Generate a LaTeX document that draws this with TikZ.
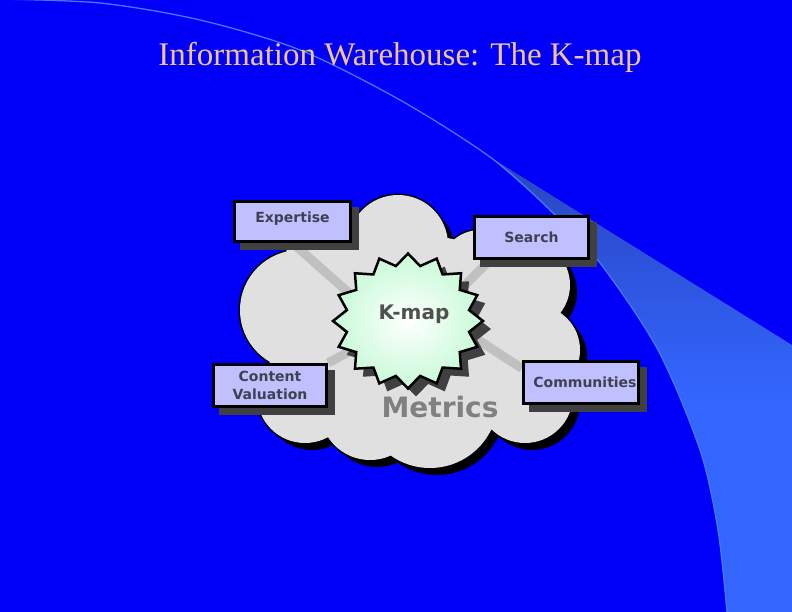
\documentclass[tikz,border=0pt]{standalone}
\usepackage{fontspec}
\setmainfont{Liberation Serif}
\newfontfamily\boxfont{DejaVu Sans}
\pgfdeclarelayer{bg}
\pgfdeclarelayer{mid}
\pgfsetlayers{bg,mid,main}
\definecolor{bgblue}{RGB}{0,0,250}
\definecolor{wedgedark}{RGB}{40,68,190}
\definecolor{wedgelight}{RGB}{51,102,255}
\definecolor{arcline}{RGB}{70,120,255}
\definecolor{titlecol}{RGB}{240,195,145}
\definecolor{cloudgray}{RGB}{224,224,224}
\definecolor{boxfill}{RGB}{192,192,255}
\definecolor{boxtext}{RGB}{64,64,80}
\definecolor{shadowgray}{RGB}{64,64,64}
\definecolor{conngray}{RGB}{192,192,192}
\definecolor{mint}{RGB}{200,250,215}
\definecolor{kmaptext}{RGB}{80,80,80}
\definecolor{metricstext}{RGB}{128,128,128}
\newcommand{\cloudpath}{(398,245) circle[radius=50] (300,310) circle[radius=60]
  (330,262) circle[radius=45] (305,395) circle[radius=48] (430,400) circle[radius=68]
  (370,410) circle[radius=50]
  (525,395) circle[radius=48] (535,350) circle[radius=45] (525,285) circle[radius=45]
  (480,270) circle[radius=40] (415,330) ellipse[x radius=130, y radius=95]}
\newcommand{\kmstar}{(0,67.5) \foreach \i in {1,...,31}{ -- ({(75-12.75*mod(\i,2))*cos(90+\i*11.25)},{(67.5-11.5*mod(\i,2))*sin(90+\i*11.25)})} -- cycle}
\begin{document}
\begin{tikzpicture}[x=1pt,y=-1pt,
  kbox/.style={draw=black, line width=3pt, fill=boxfill, minimum width=#1, minimum height=42pt,
    inner sep=0pt, font=\boxfont\bfseries\fontsize{14}{18}\selectfont, text=boxtext, align=center},
  conn/.style={draw=conngray, line width=9pt},
  shadowbox/.style={fill=shadowgray}]
\useasboundingbox (0,0) rectangle (792,612);
% boxes
\node[kbox=116pt, minimum height=40pt, text height=10pt, text depth=7pt] (exp) at (292.5,221.5) {Expertise};
\node[kbox=114pt] (srch) at (531.5,237.5) {Search};
\node[kbox=113pt] (cv) at (270,385.5) {Content\\Valuation};
\node[kbox=115pt] (comm) at (581,382.5) {\hspace*{8pt}Communities};
\begin{pgfonlayer}{bg}
\fill[bgblue] (0,0) rectangle (792,612);
\begin{scope}
\clip (490,157) -- (792,345) -- (792,612) -- (727,612) -- plot[smooth] coordinates {(727,612) (718,530) (700,450) (658,350) (600,263) (550,210) (490,157)} -- cycle;
\shade[top color=wedgedark, bottom color=wedgelight] (480,150) rectangle (792,400);
\fill[wedgelight] (480,399) rectangle (792,612);
\end{scope}
\draw[arcline, line width=1.3pt] plot[smooth] coordinates {(-5,-1) (100,3) (200,20) (300,50) (400,100) (490,157) (550,210) (600,263) (658,350) (700,450) (718,530) (727,612)};
\node[font=\fontsize{33}{36}\selectfont, text=titlecol, anchor=base] (title) at (400,66) {Information Warehouse: The K-map};
% cloud
\fill[black, shift={(7,7)}] \cloudpath;
\draw[black, line width=3pt] \cloudpath;
\fill[cloudgray] \cloudpath;
\end{pgfonlayer}
\begin{pgfonlayer}{mid}
\coordinate (ke) at (393,332);
\coordinate (ks) at (430,320);
\coordinate (kc) at (420,314);
\coordinate (kco) at (440,315);
\draw[conn] (exp.south) -- (ke);
\draw[conn] ([xshift=17pt]srch.south west) -- (ks);
\draw[conn] (cv.north east) -- (kc);
\draw[conn] ([yshift=14pt]comm.west) -- (kco);
\fill[shadowgray, shift={(416,329)}] \kmstar;
\shadedraw[inner color=white, outer color=mint, draw=black, line width=2.5pt, shift={(408,321)}] \kmstar;
\node[font=\boxfont\bfseries\fontsize{20}{22}\selectfont, text=kmaptext] (kmap) at (414,314) {K-map};
\node[font=\boxfont\bfseries\fontsize{28}{30}\selectfont, text=metricstext] (metrics) at (440,407) {Metrics};
\fill[shadowbox] ([shift={(7,7)}]exp.north west) rectangle ([shift={(7,7)}]exp.south east);
\fill[shadowbox] ([shift={(7,7)}]srch.north west) rectangle ([shift={(7,7)}]srch.south east);
\fill[shadowbox] ([shift={(7,7)}]cv.north west) rectangle ([shift={(7,7)}]cv.south east);
\fill[shadowbox] ([shift={(7,7)}]comm.north west) rectangle ([shift={(7,7)}]comm.south east);
\end{pgfonlayer}
\end{tikzpicture}
\end{document}
